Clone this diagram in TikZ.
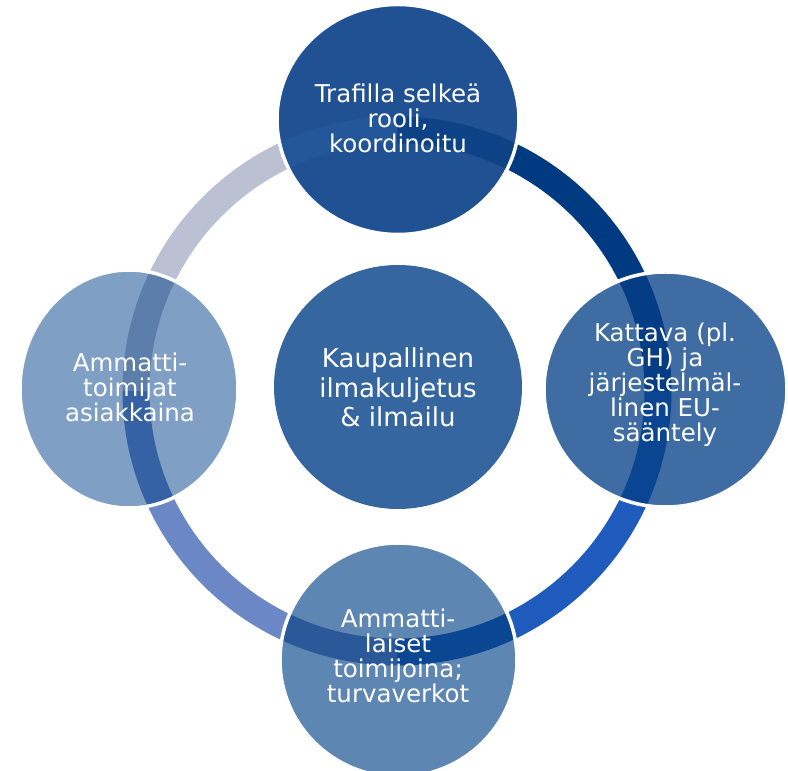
\documentclass[tikz,border=0pt]{standalone}
\usepackage{fontspec}
\setmainfont{DejaVu Sans}
\definecolor{arcA}{HTML}{003B82}
\definecolor{arcB}{HTML}{1F5BBC}
\definecolor{arcC}{HTML}{6B87C5}
\definecolor{arcD}{HTML}{BBC1D2}
\definecolor{topC}{HTML}{1F5193}
\definecolor{rightC}{HTML}{3E6CA3}
\definecolor{botC}{HTML}{5E86B2}
\definecolor{leftC}{HTML}{809FC4}
\definecolor{midC}{HTML}{3566A0}
\definecolor{topD}{HTML}{24579A}
\definecolor{topA}{HTML}{0D4386}
\definecolor{rightA}{HTML}{053D85}
\definecolor{rightB}{HTML}{0A4592}
\definecolor{botC2}{HTML}{2B5899}
\definecolor{botB}{HTML}{0B4693}
\definecolor{leftD}{HTML}{5B7EAB}
\definecolor{leftC2}{HTML}{3661A5}
\begin{document}
\begin{tikzpicture}[x=1pt,y=1pt,
  ringseg/.style={line width=27pt},
  lbl/.style={text=white,align=center,anchor=base,inner sep=0pt,
    font=\fontsize{24.5}{25}\selectfont},
  midlbl/.style={text=white,align=center,anchor=base,inner sep=0pt,
    font=\fontsize{26}{29.5}\selectfont},
  rim/.style={draw=white,line width=3.5pt}]
\useasboundingbox (0,0) rectangle (788,771);
\coordinate (O) at (397,380);
% ring arcs
\draw[ringseg,arcA] (O) ++(90:261) arc[start angle=90,end angle=0,radius=261];
\draw[ringseg,arcB] (O) ++(0:261) arc[start angle=0,end angle=-90,radius=261];
\draw[ringseg,arcC] (O) ++(-90:261) arc[start angle=-90,end angle=-180,radius=261];
\draw[ringseg,arcD] (O) ++(180:261) arc[start angle=180,end angle=90,radius=261];
% top circle
\coordinate (t) at (398,651.5);
\begin{scope}
\clip (t) ellipse[x radius=121,y radius=115];
\fill[topC] (t) ellipse[x radius=121,y radius=115];
\draw[ringseg,topA] (O) ++(90:261) arc[start angle=90,end angle=0,radius=261];
\draw[ringseg,topD] (O) ++(180:261) arc[start angle=180,end angle=90,radius=261];
\end{scope}
\draw[rim] (t) ellipse[x radius=121,y radius=115];
% right circle
\coordinate (r) at (665.5,381.5);
\begin{scope}
\clip (r) ellipse[x radius=121.5,y radius=117.5];
\fill[rightC] (r) ellipse[x radius=121.5,y radius=117.5];
\draw[ringseg,rightA] (O) ++(90:261) arc[start angle=90,end angle=0,radius=261];
\draw[ringseg,rightB] (O) ++(0:261) arc[start angle=0,end angle=-90,radius=261];
\end{scope}
\draw[rim] (r) ellipse[x radius=121.5,y radius=117.5];
% bottom circle
\coordinate (b) at (398.5,111);
\begin{scope}
\clip (b) ellipse[x radius=118.5,y radius=117];
\fill[botC] (b) ellipse[x radius=118.5,y radius=117];
\draw[ringseg,botB] (O) ++(0:261) arc[start angle=0,end angle=-90,radius=261];
\draw[ringseg,botC2] (O) ++(-90:261) arc[start angle=-90,end angle=-180,radius=261];
\end{scope}
\draw[rim] (b) ellipse[x radius=118.5,y radius=117];
% left circle
\coordinate (l) at (129,382);
\begin{scope}
\clip (l) ellipse[x radius=109,y radius=119];
\fill[leftC] (l) ellipse[x radius=109,y radius=119];
\draw[ringseg,leftC2] (O) ++(-90:261) arc[start angle=-90,end angle=-180,radius=261];
\draw[ringseg,leftD] (O) ++(180:261) arc[start angle=180,end angle=90,radius=261];
\end{scope}
\draw[rim] (l) ellipse[x radius=109,y radius=119];
% centre circle
\coordinate (m) at (398,384);
\fill[midC] (m) ellipse[x radius=124,y radius=122];
% labels (anchor base = baseline of the last line)
\node[lbl] (tl) at (398,618) {Trafilla selkeä\\rooli,\\koordinoitu};
\node[lbl] (rl) at (665,329) {Kattava (pl.\\GH) ja\\järjestelmäl-\\linen EU-\\sääntely};
\node[lbl] (bl) at (398,68) {Ammatti-\\laiset\\toimijoina;\\turvaverkot};
\node[lbl] (ll) at (130,349) {Ammatti-\\toimijat\\asiakkaina};
\node[midlbl] (ml) at (398,344) {Kaupallinen\\ilmakuljetus\\\& ilmailu};
\end{tikzpicture}
\end{document}
